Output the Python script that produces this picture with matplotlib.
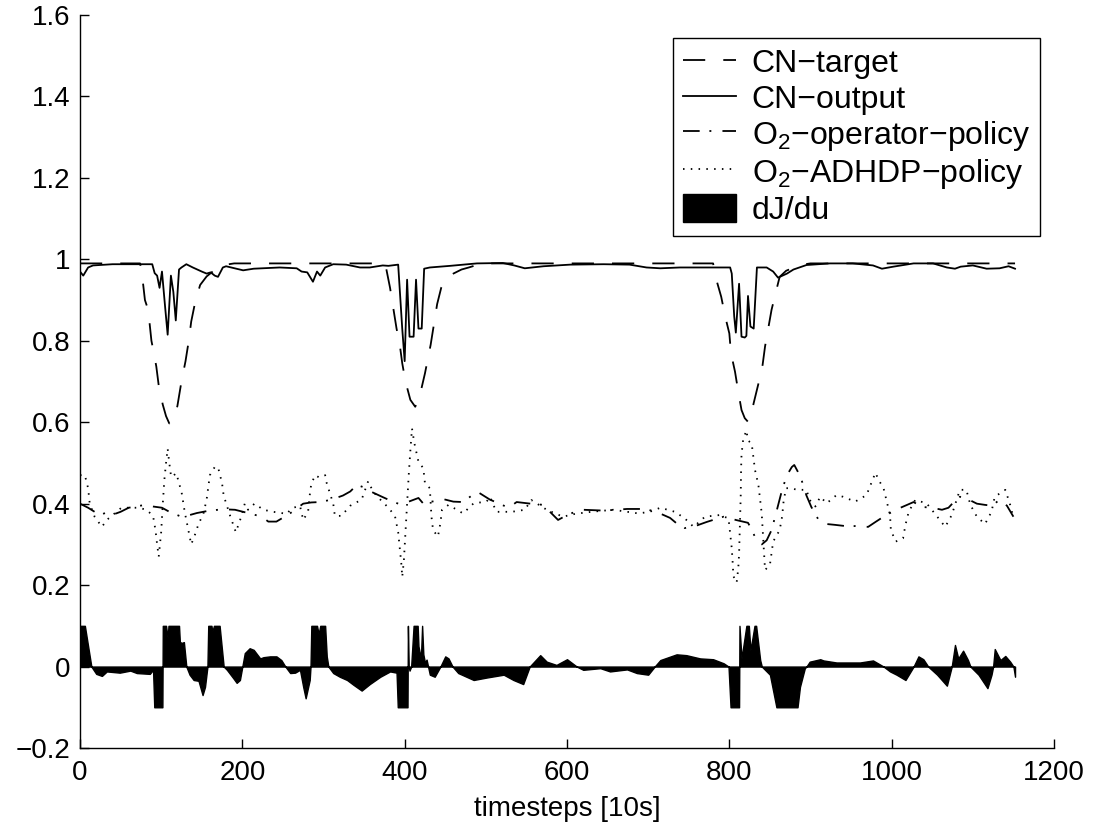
import numpy as np
import matplotlib
matplotlib.use('Agg')
import matplotlib.pyplot as plt

plt.rcParams['font.family'] = ['Liberation Sans', 'DejaVu Sans']
plt.rcParams['font.size'] = 20
plt.rcParams['mathtext.fontset'] = 'custom'
plt.rcParams['mathtext.rm'] = 'Liberation Sans'
plt.rcParams['mathtext.default'] = 'regular'
plt.rcParams['lines.scale_dashes'] = False

# CN-target (dashed)
t_target = [0, 70, 74, 76, 80, 84, 88, 90, 94, 97, 102, 106, 110, 114, 117, 120, 125, 130, 134, 137, 142, 148,
            156, 166, 177, 190, 373, 377, 382, 386, 390, 394, 397, 401, 407, 413, 418, 425, 429, 432, 436, 440,
            445, 452, 460, 470, 479, 495, 780, 784, 790, 795, 800, 802, 807, 811, 815, 819, 823, 827, 830, 836,
            841, 844, 848, 852, 858, 862, 870, 880, 890, 900, 1152]
cn_target = [0.99, 0.99, 0.99, 0.97, 0.90, 0.876, 0.80, 0.78, 0.737, 0.69, 0.643, 0.615, 0.597, 0.605, 0.618,
             0.64, 0.70, 0.75, 0.80, 0.847, 0.896, 0.937, 0.958, 0.974, 0.986, 0.99, 0.99, 0.98, 0.93, 0.88,
             0.83, 0.79, 0.745, 0.70, 0.655, 0.638, 0.66, 0.72, 0.76, 0.79, 0.84, 0.89, 0.93, 0.955, 0.965,
             0.975, 0.98, 0.99, 0.99, 0.95, 0.908, 0.859, 0.818, 0.77, 0.724, 0.675, 0.63, 0.61, 0.601, 0.62,
             0.647, 0.696, 0.741, 0.786, 0.831, 0.876, 0.925, 0.957, 0.972, 0.98, 0.987, 0.99, 0.99]

# CN-output (solid)
t_output = [0, 4, 10, 16, 40, 89, 92, 95, 98, 101, 105, 108, 112, 115, 118, 122, 125, 131, 139, 150, 156, 161,
            166, 170, 176, 180, 201, 214, 246, 267, 273, 280, 287, 292, 296, 302, 312, 328, 345, 357, 373, 380,
            392, 397, 400, 403, 406, 411, 414, 417, 421, 424, 431, 456, 489, 521, 535, 548, 571, 604, 645, 677,
            698, 715, 739, 801, 803, 806, 808, 812, 815, 819, 821, 823, 826, 830, 834, 846, 854, 860, 871, 879,
            895, 924, 952, 977, 988, 1002, 1027, 1051, 1068, 1078, 1085, 1100, 1117, 1133, 1144, 1152]
cn_output = [0.97, 0.96, 0.98, 0.985, 0.988, 0.988, 0.966, 0.96, 0.93, 0.97, 0.88, 0.815, 0.96, 0.92, 0.85,
             0.975, 0.98, 0.988, 0.98, 0.97, 0.965, 0.968, 0.96, 0.957, 0.98, 0.983, 0.973, 0.977, 0.98, 0.978,
             0.97, 0.968, 0.945, 0.97, 0.96, 0.98, 0.988, 0.987, 0.98, 0.98, 0.985, 0.984, 0.987, 0.83, 0.75,
             0.95, 0.81, 0.81, 0.95, 0.83, 0.83, 0.977, 0.98, 0.984, 0.99, 0.991, 0.985, 0.978, 0.983, 0.987,
             0.988, 0.987, 0.98, 0.978, 0.98, 0.98, 0.965, 0.86, 0.82, 0.94, 0.81, 0.808, 0.812, 0.91, 0.835,
             0.83, 0.98, 0.98, 0.97, 0.955, 0.965, 0.975, 0.986, 0.99, 0.99, 0.985, 0.977, 0.982, 0.99, 0.99,
             0.98, 0.977, 0.982, 0.985, 0.977, 0.978, 0.983, 0.977]

# O2-operator-policy (dash-dot)
t_oper = [0, 10, 18, 25, 32, 39, 50, 60, 80, 90, 101, 112, 125, 135, 144, 157, 170, 180, 191, 205, 224, 232,
          242, 258, 275, 285, 296, 310, 324, 333, 341, 350, 358, 372, 382, 392, 405, 417, 423, 429, 433, 450,
          460, 472, 480, 489, 505, 520, 528, 538, 555, 571, 580, 589, 600, 610, 620, 633, 645, 660, 674, 685,
          696, 710, 727, 736, 745, 758, 772, 783, 793, 808, 823, 828, 832, 840, 846, 852, 858, 865, 871, 877,
          880, 884, 889, 895, 901, 910, 920, 930, 943, 955, 971, 980, 990, 1005, 1019, 1027, 1037, 1050, 1062,
          1070, 1077, 1084, 1095, 1105, 1115, 1124, 1133, 1142, 1150]
o2_oper = [0.40, 0.39, 0.38, 0.372, 0.378, 0.372, 0.38, 0.39, 0.397, 0.393, 0.39, 0.378, 0.368, 0.372, 0.377,
           0.382, 0.385, 0.386, 0.385, 0.378, 0.368, 0.356, 0.356, 0.375, 0.40, 0.403, 0.404, 0.41, 0.42, 0.43,
           0.446, 0.44, 0.43, 0.417, 0.408, 0.40, 0.405, 0.414, 0.40, 0.40, 0.405, 0.41, 0.405, 0.404, 0.416,
           0.43, 0.41, 0.397, 0.39, 0.404, 0.40, 0.397, 0.378, 0.36, 0.372, 0.38, 0.385, 0.384, 0.383, 0.385,
           0.387, 0.387, 0.387, 0.38, 0.365, 0.35, 0.34, 0.345, 0.355, 0.362, 0.368, 0.36, 0.353, 0.335, 0.316,
           0.30, 0.31, 0.335, 0.38, 0.434, 0.47, 0.49, 0.495, 0.48, 0.458, 0.42, 0.392, 0.36, 0.35, 0.348,
           0.345, 0.345, 0.343, 0.355, 0.368, 0.385, 0.397, 0.404, 0.392, 0.39, 0.385, 0.39, 0.405, 0.417,
           0.41, 0.40, 0.397, 0.395, 0.41, 0.395, 0.368]

# O2-ADHDP-policy (dotted)
t_adhdp = [0, 6, 10, 12, 18, 27, 33, 39, 51, 57, 64, 72, 82, 90, 93, 95, 97, 100, 102, 104, 106, 108, 110, 112,
           114, 116, 118, 120, 122, 125, 129, 133, 137, 141, 146, 152, 156, 158, 160, 166, 170, 175, 177, 185,
           192, 199, 203, 207, 215, 226, 238, 255, 259, 263, 271, 275, 281, 283, 285, 290, 294, 302, 304, 312,
           314, 322, 333, 347, 355, 361, 370, 380, 388, 392, 394, 396, 397, 399, 401, 403, 405, 407, 409, 412,
           417, 423, 425, 431, 433, 435, 441, 444, 446, 454, 472, 485, 501, 505, 513, 532, 548, 556, 575, 595,
           610, 630, 657, 688, 702, 715, 733, 745, 756, 770, 788, 799, 801, 803, 804, 805, 809, 811, 812, 813,
           814, 814.5, 815, 817, 821, 823, 827.5, 829.6, 831.6, 835.8, 837.8, 839.9, 842, 844, 850, 854, 862,
           865, 867, 870, 877, 883, 895, 899, 906, 912, 920, 932, 940, 955, 969, 980, 984, 990, 994, 998, 999,
           1005, 1014, 1017, 1021, 1029, 1043, 1053, 1066, 1074, 1084, 1092, 1097, 1105, 1115, 1123, 1127, 1140,
           1146, 1150]
o2_adhdp = [0.47, 0.47, 0.438, 0.40, 0.368, 0.343, 0.36, 0.37, 0.39, 0.39, 0.39, 0.39, 0.385, 0.37, 0.335, 0.30,
            0.27, 0.33, 0.40, 0.46, 0.50, 0.535, 0.50, 0.47, 0.465, 0.47, 0.475, 0.465, 0.45, 0.43, 0.38, 0.34,
            0.30, 0.32, 0.35, 0.375, 0.41, 0.44, 0.47, 0.49, 0.49, 0.45, 0.42, 0.37, 0.33, 0.37, 0.40, 0.385,
            0.40, 0.385, 0.38, 0.375, 0.385, 0.39, 0.395, 0.36, 0.38, 0.42, 0.45, 0.47, 0.465, 0.47, 0.45, 0.40,
            0.37, 0.37, 0.395, 0.41, 0.455, 0.43, 0.41, 0.39, 0.37, 0.33, 0.29, 0.25, 0.22, 0.26, 0.33, 0.40,
            0.47, 0.53, 0.585, 0.548, 0.503, 0.487, 0.45, 0.438, 0.368, 0.335, 0.319, 0.352, 0.385, 0.397, 0.376,
            0.401, 0.405, 0.417, 0.38, 0.38, 0.385, 0.409, 0.385, 0.368, 0.375, 0.38, 0.385, 0.376, 0.38, 0.39,
            0.38, 0.364, 0.343, 0.368, 0.372, 0.364, 0.327, 0.29, 0.259, 0.222, 0.206, 0.241, 0.276, 0.347, 0.417,
            0.487, 0.52, 0.557, 0.58, 0.555, 0.548, 0.515, 0.483, 0.446, 0.411, 0.376, 0.307, 0.237, 0.25, 0.307,
            0.335, 0.368, 0.409, 0.438, 0.438, 0.434, 0.434, 0.409, 0.393, 0.417, 0.401, 0.421, 0.417, 0.405,
            0.421, 0.476, 0.458, 0.438, 0.405, 0.372, 0.335, 0.307, 0.315, 0.348, 0.38, 0.409, 0.401, 0.376,
            0.343, 0.372, 0.434, 0.434, 0.397, 0.368, 0.35, 0.38, 0.417, 0.434, 0.397, 0.366]

# dJ/du (filled area, clipped at +-0.1)
t_djdu = [0, 6, 14, 20, 27, 33, 49, 62, 70, 86, 90, 91.5, 101.5, 102, 106, 108, 109, 122, 123, 125, 128, 129, 131,
          135, 140, 146, 151, 154, 157, 158, 162, 163, 165, 172, 177, 181, 189, 193, 197, 200, 203, 209, 214,
          222, 226, 234, 242, 248, 253, 259, 265, 271, 275, 278, 283, 284, 285, 292, 294, 296, 302, 304, 306,
          312, 320, 329, 337, 347, 357, 370, 382, 390, 391.5, 403.5, 404, 405, 406, 408, 411, 416, 417, 420,
          421.5, 423, 425, 427, 431, 437, 444, 450, 454, 459, 466, 485, 501, 522, 534, 546, 554, 567, 575, 587,
          600, 612, 620, 641, 653, 674, 686, 700, 708, 715, 735, 747, 764, 780, 793, 799, 801.5, 812, 812.5,
          815, 821, 824, 826, 831, 833, 836, 838, 840, 850, 858, 884, 887, 893, 895, 899, 912, 916, 932, 961,
          977, 990, 998, 1006, 1017, 1027, 1033, 1039, 1045, 1056, 1068, 1074, 1078, 1082, 1088, 1094, 1097,
          1107, 1118, 1123, 1125, 1127, 1134, 1140, 1146, 1150, 1152]
djdu = [0.1, 0.1, 0.0, -0.018, -0.023, -0.012, -0.015, -0.01, -0.016, -0.018, -0.008, -0.1, -0.1, 0.1, 0.1, 0.07,
        0.1, 0.1, 0.061, 0.058, 0.06, 0.04, 0.0, -0.02, -0.033, -0.035, -0.07, -0.05, 0.0, 0.1, 0.1, 0.086, 0.1,
        0.1, 0.0, -0.008, -0.029, -0.04, -0.033, 0.0, 0.033, 0.045, 0.041, 0.02, 0.023, 0.025, 0.025, 0.016, 0.0,
        -0.016, -0.015, -0.008, -0.05, -0.078, -0.033, 0.0, 0.1, 0.1, 0.08, 0.1, 0.1, 0.025, 0.0, -0.016, -0.025,
        -0.033, -0.045, -0.059, -0.043, -0.025, -0.012, -0.015, -0.1, -0.1, 0.1, 0.0, -0.01, 0.0, 0.1, 0.1, 0.05,
        0.02, 0.1, 0.03, 0.01, 0.017, -0.02, -0.025, 0.0, 0.025, 0.02, 0.0, -0.016, -0.033, -0.027, -0.02, -0.033,
        -0.043, 0.0, 0.028, 0.012, 0.004, 0.018, 0.0, -0.008, -0.004, -0.012, -0.007, -0.016, -0.02, 0.0, 0.016,
        0.03, 0.028, 0.02, 0.018, 0.008, 0.0, -0.1, -0.1, 0.1, 0.02, 0.1, 0.1, 0.04, 0.1, 0.1, 0.05, 0.016, 0.0,
        -0.02, -0.1, -0.1, -0.05, -0.004, 0.0, 0.012, 0.018, 0.015, 0.01, 0.01, 0.015, 0.0, -0.012, -0.02, -0.033,
        0.0, 0.025, 0.018, 0.0, -0.02, -0.047, 0.0, 0.053, 0.02, 0.039, 0.016, 0.0, -0.02, -0.053, -0.02, 0.0,
        0.043, 0.016, 0.026, 0.012, 0.0, -0.025]

yticks = [-0.2, 0, 0.2, 0.4, 0.6, 0.8, 1, 1.2, 1.4, 1.6]
ytick_labels = ['\u22120.2', '0', '0.2', '0.4', '0.6', '0.8', '1', '1.2', '1.4', '1.6']
xticks = [0, 200, 400, 600, 800, 1000, 1200]

fig = plt.figure(figsize=(10.94, 8.32), dpi=100)
ax = fig.add_axes([80 / 1094, 84 / 832, 974 / 1094, 733 / 832])

lw = 1.3
ax.plot(t_target, cn_target, color='k', lw=lw, dashes=(16, 13), label='CN\u2212target')
ax.plot(t_output, cn_output, color='k', lw=lw, label='CN\u2212output')
ax.plot(t_oper, o2_oper, color='k', lw=lw, dashes=(12, 7, 1.4, 8),
        label='O$_2$\u2212operator\u2212policy')
ax.plot(t_adhdp, o2_adhdp, color='k', lw=lw, dashes=(1.1, 4.5),
        label='O$_2$\u2212ADHDP\u2212policy')
ax.fill_between(t_djdu, 0, djdu, facecolor='k', edgecolor='k', lw=1.0, label='dJ/du')

ax.set_xlim(0, 1200)
ax.set_ylim(-0.2, 1.6)
ax.set_xticks(xticks)
ax.set_yticks(yticks)
ax.set_yticklabels(ytick_labels)
ax.spines['top'].set_visible(False)
ax.spines['right'].set_visible(False)
for s in ['left', 'bottom']:
    ax.spines[s].set_linewidth(1.0)
ax.tick_params(direction='in', length=6.5, width=1.0, labelsize=20)
ax.tick_params(axis='y', pad=7)
ax.tick_params(axis='x', pad=9)
ax.set_xlabel('timesteps [10s]', fontsize=20, labelpad=7)

leg = ax.legend(loc='upper right', bbox_to_anchor=(0.9856, 0.9686), borderaxespad=0,
                fancybox=False, framealpha=1, edgecolor='k', fontsize=23,
                handlelength=1.65, handleheight=0.95, handletextpad=0.5,
                labelspacing=0.12, borderpad=0.3)
leg.get_frame().set_linewidth(1.0)

fig.savefig('out.png', dpi=100)
